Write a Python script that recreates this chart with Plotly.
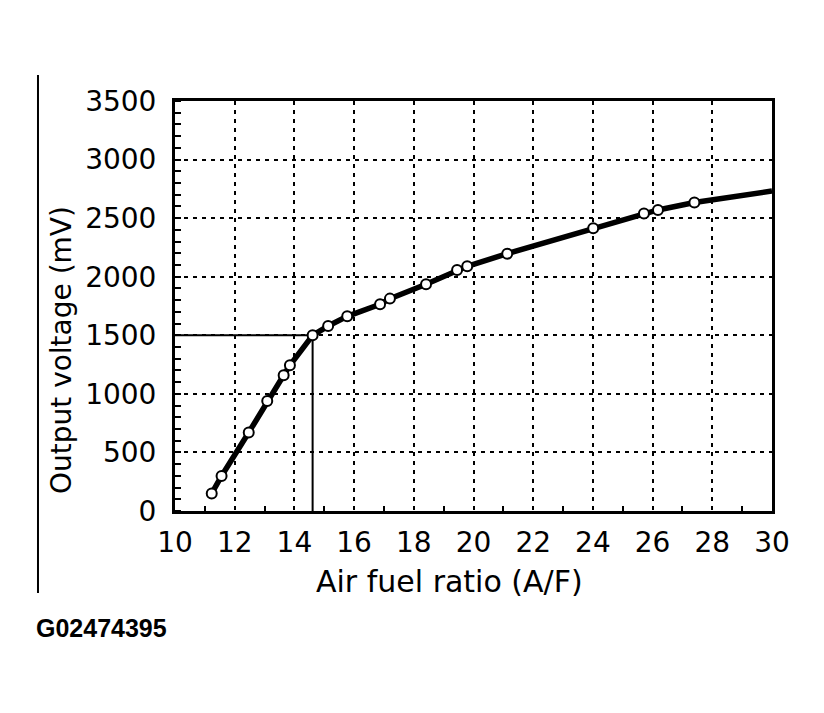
import plotly.graph_objects as go

# measured sensor points (air fuel ratio vs output voltage)
af_ratio = [11.23, 11.56, 12.47, 13.09, 13.64, 13.85, 14.61, 15.13, 15.77,
            16.87, 17.2, 18.41, 19.45, 19.79, 21.13, 24.01, 25.71, 26.18, 27.4]
output_mv = [150, 299, 670, 939, 1159, 1244, 1500, 1579, 1662,
             1765, 1813, 1935, 2057, 2089, 2197, 2413, 2539, 2570, 2633]

# curve continues to the right edge without a marker
curve_end_af = 30
curve_end_mv = 2732

# stoichiometric reference
ref_af = 14.61
ref_mv = 1500

x_ticks = [10, 12, 14, 16, 18, 20, 22, 24, 26, 28, 30]
y_ticks = [0, 500, 1000, 1500, 2000, 2500, 3000, 3500]

FONT = "DejaVu Sans"

fig = go.Figure()

# reference lines
fig.add_trace(go.Scatter(x=[x_ticks[0], ref_af, ref_af], y=[ref_mv, ref_mv, y_ticks[0]],
                         mode="lines", line=dict(color="black", width=2),
                         hoverinfo="skip", showlegend=False))

# curve
fig.add_trace(go.Scatter(x=af_ratio + [curve_end_af], y=output_mv + [curve_end_mv],
                         mode="lines", line=dict(color="black", width=5.5),
                         showlegend=False))
fig.add_trace(go.Scatter(x=af_ratio, y=output_mv, mode="markers",
                         marker=dict(symbol="circle", size=10, color="white",
                                     line=dict(color="black", width=2)),
                         showlegend=False))

fig.update_xaxes(range=[10, 30], tickvals=x_ticks, ticks="",
                 showline=True, mirror=True, linewidth=3, linecolor="black",
                 showgrid=True, gridcolor="black", gridwidth=2, griddash="4px,5px",
                 zeroline=False, ticklabelstandoff=4,
                 tickfont=dict(family=FONT, size=28, color="black"),
                 minor=dict(tickvals=[11, 13, 15, 17, 19, 21, 23, 25, 27, 29],
                            ticks="inside", ticklen=5, tickwidth=2,
                            tickcolor="black", showgrid=False))
fig.update_yaxes(range=[0, 3500], tickvals=y_ticks, ticks="",
                 showline=True, mirror=True, linewidth=3, linecolor="black",
                 showgrid=True, gridcolor="black", gridwidth=2, griddash="4px,5px",
                 zeroline=False, ticklabelstandoff=10,
                 tickfont=dict(family=FONT, size=28, color="black"),
                 minor=dict(dtick=100, ticks="inside", ticklen=6, tickwidth=2,
                            tickcolor="black", showgrid=False))

fig.add_annotation(text="Output voltage (mV)", xref="paper", yref="paper",
                   x=-0.189, y=0.393, xanchor="center", yanchor="middle",
                   textangle=-90, showarrow=False,
                   font=dict(family=FONT, size=28, color="black"))
fig.add_annotation(text="Air fuel ratio (A/F)", xref="paper", yref="paper",
                   x=0.459, y=-0.173, xanchor="center", yanchor="middle",
                   showarrow=False,
                   font=dict(family=FONT, size=30, color="black"))
fig.add_annotation(text="<b>G02474395</b>", xref="paper", yref="paper",
                   x=-0.236, y=-0.285, xanchor="left", yanchor="middle",
                   showarrow=False,
                   font=dict(family="Liberation Sans", size=25, color="black"))

# margin rule on the left
fig.add_shape(type="line", xref="paper", yref="paper",
              x0=-0.2295, x1=-0.2295, y0=-0.2, y1=1.0634,
              line=dict(color="black", width=2))

fig.update_layout(width=824, height=713,
                  margin=dict(l=167, r=60, t=93, b=210),
                  paper_bgcolor="white", plot_bgcolor="white",
                  font=dict(family=FONT, color="black"))

fig.write_html("out.html")
